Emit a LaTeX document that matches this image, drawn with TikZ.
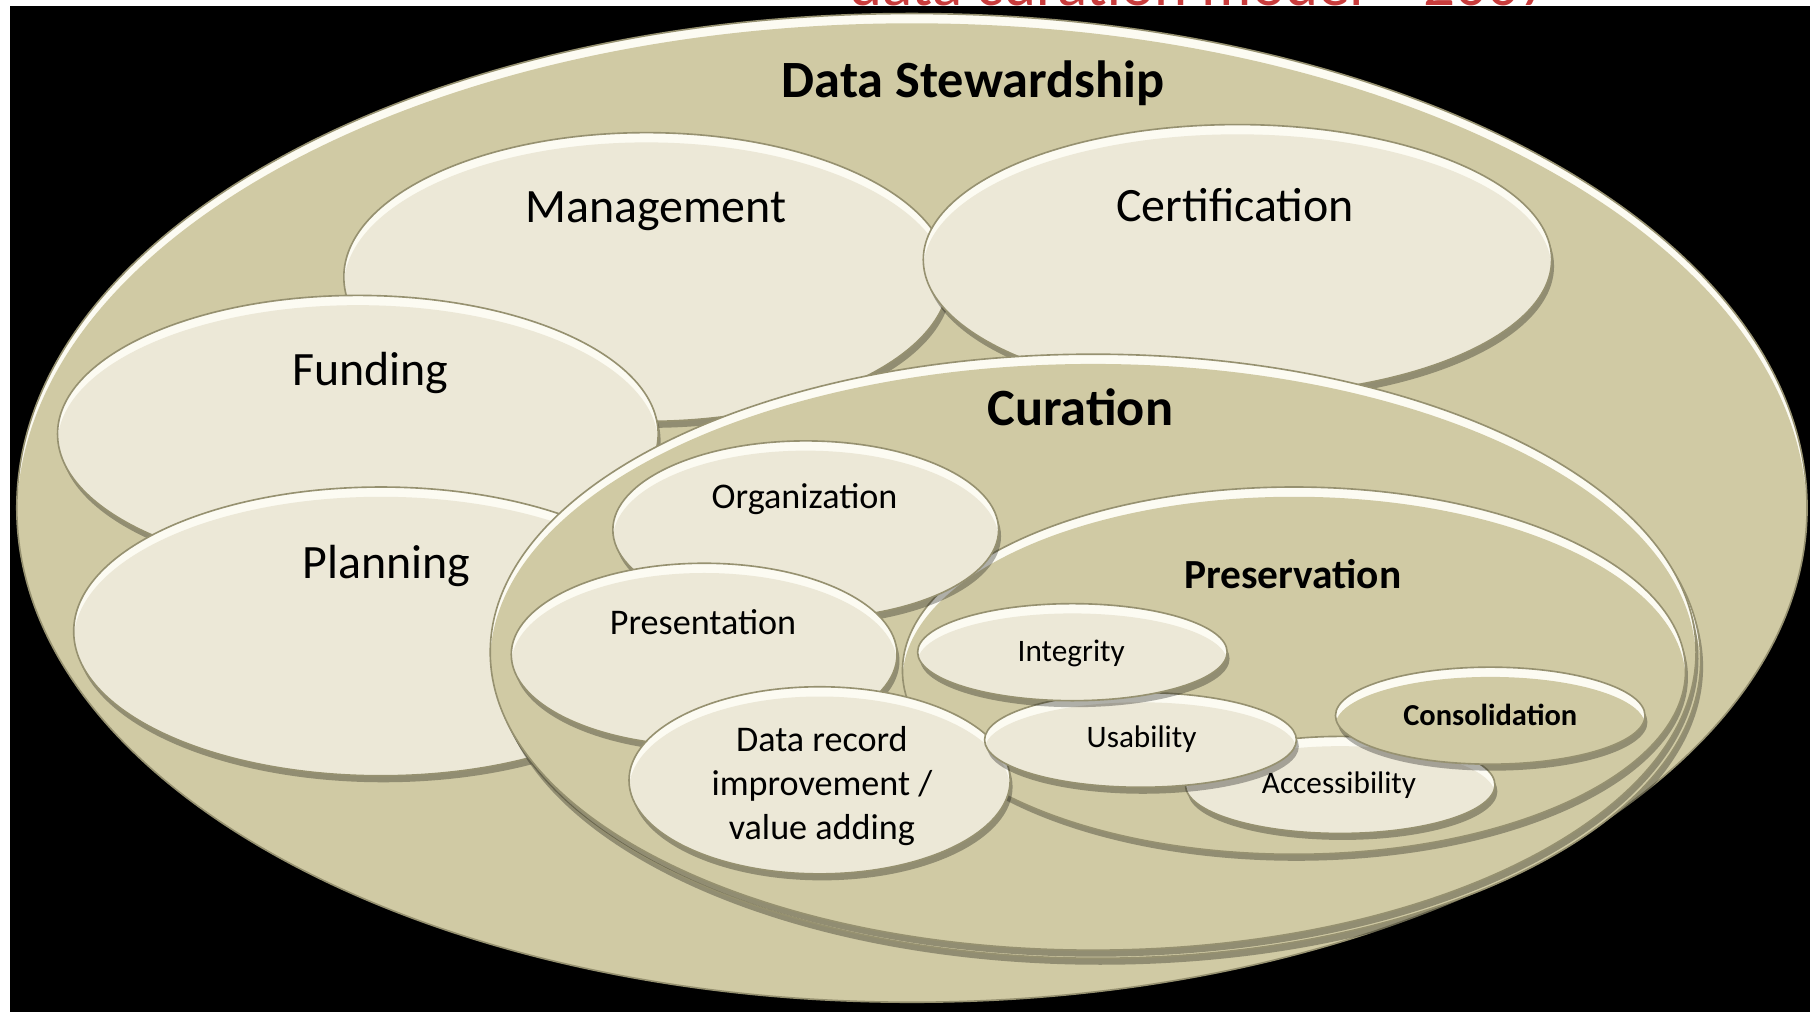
\documentclass[tikz,border=0pt]{standalone}
\usepackage{fontspec}
\setmainfont{Carlito}
\usetikzlibrary{shapes.geometric,shadows,positioning}

\definecolor{olivebg}{RGB}{208,202,164}
\definecolor{lightbg}{RGB}{236,232,215}
\definecolor{rimcol}{RGB}{252,251,242}
\definecolor{edgecol}{RGB}{150,145,112}
\definecolor{titlered}{RGB}{200,60,60}

\tikzset{
  blob/.style n args={3}{ellipse, inner sep=0pt, minimum width=#1, minimum height=#2,
    fill=rimcol, draw=edgecol, line width=0.4pt,
    drop shadow={shadow xshift=0.6pt, shadow yshift=-1.6pt, opacity=.3, fill=black},
    path picture={\fill[#3] ([yshift=-2.4pt]path picture bounding box.center)
      ellipse [x radius=#1/2, y radius=#2/2];}},
}

\begin{document}
\begin{tikzpicture}[x=0.01cm, y=-0.01cm]
  \tikzstyle{txttitle}=[text=titlered, font=\fontsize{15.5}{18}\selectfont]
  \tikzstyle{txthead}=[font=\bfseries\fontsize{12.9}{15}\selectfont]
  \tikzstyle{txtbig}=[font=\fontsize{11.8}{14}\selectfont]
  \tikzstyle{txtsub}=[font=\bfseries\fontsize{10.2}{12}\selectfont]
  \tikzstyle{txtmid}=[font=\fontsize{8.9}{10.8}\selectfont, align=center]
  \tikzstyle{txtsmall}=[font=\fontsize{7.7}{9}\selectfont]
  \tikzstyle{txtsmallb}=[font=\bfseries\fontsize{7.5}{9}\selectfont]

  \useasboundingbox (0,0) rectangle (1568,877);
  \fill[white] (0,0) rectangle (1568,877);
  \fill[black] (8.7,5.2) rectangle (1568,877);
  % title, only its lower edge shows above the slide
  \begin{scope}
    \clip (0,0) rectangle (1568,5.2);
    \node[txttitle, anchor=base] (title) at (1040,4.5) {data curation model – 2007};
  \end{scope}

  % outer ring
  \node[blob={15.50cm}{8.56cm}{olivebg}] (stew) at (790,440) {};
  \node[txthead] (stew-lbl) at (843,72) {Data Stewardship};

  % stewardship parts
  \node[blob={5.24cm}{2.50cm}{lightbg}] (mgmt) at (560,240) {};
  \node[txtbig] (mgmt-lbl) at (568,183) {Management};
  \node[blob={5.44cm}{2.34cm}{lightbg}] (cert) at (1072,225) {};
  \node[txtbig] (cert-lbl) at (1070,178) {Certification};
  \node[blob={5.20cm}{2.40cm}{lightbg}] (fund) at (310,376) {};
  \node[txtbig] (fund-lbl) at (321,323) {Funding};
  \node[blob={5.32cm}{2.50cm}{lightbg}] (plan) at (330,547) {};
  \node[txtbig] (plan-lbl) at (335,490) {Planning};

  % curation
  \node[blob={10.44cm}{5.16cm}{olivebg}] (cur-back) at (951,572) {};
  \node[blob={10.44cm}{5.16cm}{olivebg}] (cur) at (947,565) {};
  \node[txthead] (cur-lbl) at (936,353) {Curation};

  \node[blob={6.78cm}{3.18cm}{olivebg}] (presv) at (1121,581) {};
  \node[txtsub] (presv-lbl) at (1120,497) {Preservation};

  \node[blob={3.34cm}{1.54cm}{lightbg}] (org) at (698,459) {};
  \node[txtmid] (org-lbl) at (697,432) {Organization};
  \node[blob={3.34cm}{1.58cm}{lightbg}] (prsnt) at (610,567) {};
  \node[txtmid] (prsnt-lbl) at (609,539) {Presentation};
  \node[blob={3.30cm}{1.62cm}{lightbg}] (drec) at (710,676) {};
  \node[txtmid] (drec-lbl) at (712,681) {Data record\\improvement /\\value adding};

  % preservation parts
  \node[blob={2.68cm}{0.84cm}{lightbg}] (access) at (1161,680) {};
  \node[txtsmall] (access-lbl) at (1160,680) {Accessibility};
  \node[blob={2.70cm}{0.82cm}{lightbg}] (usab) at (988,641) {};
  \node[txtsmall] (usab-lbl) at (989,640) {Usability};
  \node[blob={2.68cm}{0.84cm}{lightbg}] (integ) at (929,565) {};
  \node[txtsmall] (integ-lbl) at (928,566) {Integrity};
  \node[blob={2.68cm}{0.84cm}{olivebg}] (consol) at (1291,620) {};
  \node[txtsmallb] (consol-lbl) at (1291,619) {Consolidation};
\end{tikzpicture}
\end{document}
